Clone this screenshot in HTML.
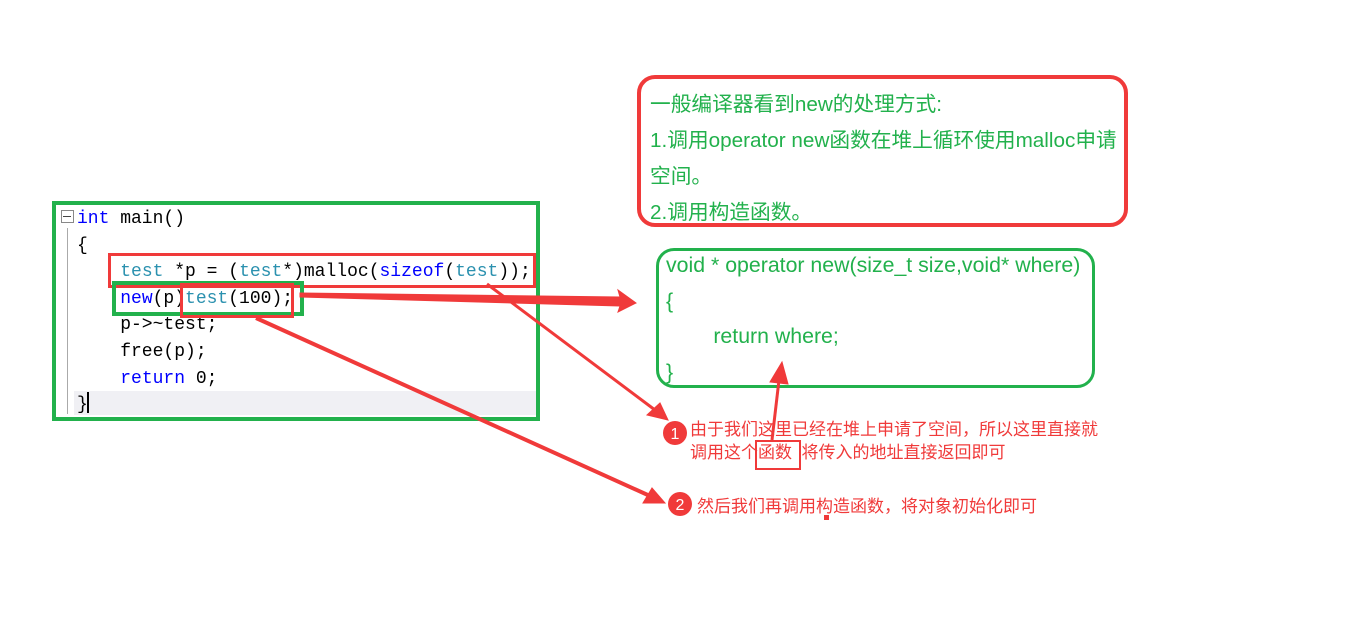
<!DOCTYPE html>
<html><head><meta charset="utf-8"><style>
body{margin:0;width:1362px;height:631px;background:#fff;position:relative;overflow:hidden;font-family:"Liberation Sans","Noto Sans CJK SC",sans-serif}
.a{position:absolute}
.code{font-family:"Liberation Mono","Noto Sans CJK SC",monospace;font-size:18px;color:#000;white-space:pre}
.k{color:#0000ff}.t{color:#2b91af}
.g{color:#22b14c}
.r{color:#f03a3a}
</style></head><body>
<div class="a" style="left:52px;top:201px;width:480px;height:212px;border:4px solid #22b14c"></div>
<div class="a" style="left:61px;top:210px;width:11px;height:11px;border:1px solid #888"></div>
<div class="a" style="left:63px;top:216px;width:8px;height:1px;background:#444"></div>
<div class="a" style="left:67px;top:228px;width:1px;height:186px;background:#aaa"></div>
<div class="a" style="left:74px;top:391px;width:462px;height:24px;background:#f0f0f4"></div>
<div class="a code" style="left:77px;top:206px;line-height:26.6px"><span class="k">int</span> main()
{
    <span class="t">test</span> *p = (<span class="t">test</span>*)malloc(<span class="k">sizeof</span>(<span class="t">test</span>));
    <span class="k">new</span>(p)<span class="t">test</span>(100);
    p-&gt;~test;
    free(p);
    <span class="k">return</span> 0;
}</div>
<div class="a" style="left:87px;top:392px;width:2px;height:21px;background:#000"></div>
<div class="a" style="left:108px;top:253px;width:422px;height:29px;border:3px solid #f03a3a"></div>
<div class="a" style="left:112px;top:281px;width:184px;height:27px;border:4px solid #22b14c"></div>
<div class="a" style="left:180px;top:283px;width:108px;height:29px;border:3px solid #f03a3a"></div>

<div class="a" style="left:637px;top:75px;width:483px;height:144px;border:4px solid #f03a3a;border-radius:18px"></div>
<div class="a g" style="left:650px;top:87px;font-size:20.7px;line-height:36px">一般编译器看到new的处理方式:<br>1.调用operator new函数在堆上循环使用malloc申请<br>空间。<br>2.调用构造函数。</div>

<div class="a" style="left:656px;top:248px;width:433px;height:134px;border:3px solid #22b14c;border-radius:18px"></div>
<div class="a g" style="left:666px;top:248px;font-size:21.3px;line-height:35.5px">void * operator new(size_t size,void* where)<br>{<br>&nbsp;&nbsp;&nbsp;&nbsp;&nbsp;&nbsp;&nbsp;&nbsp;return where;<br>}</div>

<svg class="a" style="left:0;top:0" width="1362" height="631">
<g stroke="#f03a3a" fill="#f03a3a">
<polygon points="300,293 620,297 618,290 636,303 618,312 620,306 300,297"/>
<line x1="487" y1="284" x2="655" y2="410" stroke-width="3"/>
<polygon points="668,420 647,415 660,403"/>
<line x1="256" y1="318" x2="650" y2="496" stroke-width="4"/>
<polygon points="665,503 643,503 652,488"/>
<line x1="772" y1="440" x2="779" y2="380" stroke-width="3"/>
<polygon points="782,362 770,382 788,384"/>
</g>
<circle cx="675" cy="433" r="12" fill="#f03a3a"/>
<circle cx="680" cy="504" r="12" fill="#f03a3a"/>
<text x="675" y="439" fill="#fff" font-size="16" text-anchor="middle" font-family="Liberation Sans">1</text>
<text x="680" y="510" fill="#fff" font-size="16" text-anchor="middle" font-family="Liberation Sans">2</text>
<rect x="824" y="515" width="5" height="5" fill="#f03a3a"/>
</svg>
<div class="a r" style="left:690px;top:418px;font-size:17px;line-height:23px">由于我们这里已经在堆上申请了空间，所以这里直接就<br>调用这个函数&nbsp;&nbsp;将传入的地址直接返回即可</div>
<div class="a" style="left:755px;top:440px;width:42px;height:26px;border:2px solid #f03a3a"></div>
<div class="a r" style="left:697px;top:492px;font-size:17px">然后我们再调用构造函数，将对象初始化即可</div>
</body></html>
